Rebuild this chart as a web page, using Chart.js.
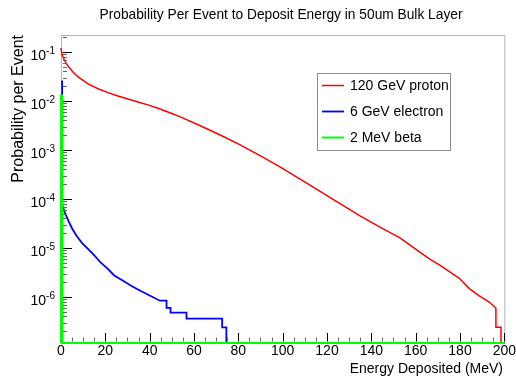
<!DOCTYPE html>
<html>
<head>
<meta charset="utf-8">
<script src="https://cdn.jsdelivr.net/npm/chart.js@4/dist/chart.umd.min.js"></script>
<style>
  html, body { margin: 0; padding: 0; background: #ffffff; }
  #c { display: block; }
</style>
</head>
<body>
<canvas id="c" width="516" height="376"></canvas>
<script>
// ---- Data (energy in MeV, probability per event) ----
const seriesNames = ["120 GeV proton", "6 GeV electron", "2 MeV beta"];

const redEnergy = [0, 0.5, 1.7, 3.2, 5.4, 7.7, 12.2, 16.7, 21.2, 25.7, 30.2,
  34.7, 39.2, 43.7, 49.1, 53.6, 62.6, 71.6, 80.6, 89.6, 98.6,
  107.7, 116.7, 125.7, 134.7, 143.7, 152.7, 157.2, 161.7, 166.2, 170.7,
  175.2, 179.7, 184.2, 188.7, 193.2, 196.2, 196.2, 198.5, 198.5, 200];
const redProb = [0.120, 0.0871, 0.0661, 0.0513, 0.0389, 0.0309, 0.0224, 0.0178, 0.0148, 0.0126, 0.0110,
  0.00955, 0.00832, 0.00708, 0.00575, 0.00479, 0.00316, 0.00204, 0.00129, 7.76e-4, 4.57e-4,
  2.57e-4, 1.45e-4, 8.13e-5, 4.57e-5, 2.69e-5, 1.62e-5, 1.17e-5, 8.3e-6, 6.0e-6, 4.5e-6,
  3.3e-6, 2.4e-6, 1.48e-6, 1.05e-6, 7.9e-7, 5.9e-7, 2.4e-7, 2.4e-7, 0, 0];

const blueEnergy = [0, 0.5, 0.5, 1.8, 3.3, 5, 7, 9.5, 12.5, 15, 17.6, 21, 24, 28, 32, 36, 40, 44.6,
  47.6, 47.6, 49.4, 49.4, 56.6, 56.6, 72.7, 72.7, 74.6, 74.6, 200];
const blueProb = [0.025, 0.025, 7.6e-5, 5.2e-5, 3.6e-5, 2.5e-5, 1.78e-5, 1.26e-5, 9.3e-6, 7.1e-6, 5.2e-6, 3.8e-6, 2.75e-6, 2.14e-6, 1.66e-6, 1.32e-6, 1.07e-6, 8.4e-7,
  8.4e-7, 6.0e-7, 6.0e-7, 4.8e-7, 4.8e-7, 3.6e-7, 3.6e-7, 2.4e-7, 2.4e-7, 0, 0];

const greenEnergy = [0, 0, 0.5, 0.5, 200];
const greenProb = [0, 0.013, 0.013, 0, 0];

const xTickValues = [0, 20, 40, 60, 80, 100, 120, 140, 160, 180, 200];
const yDecades = [-1, -2, -3, -4, -5, -6];

const Y_MIN = 1.15e-7, Y_MAX = 0.222;
const FONT = "'Liberation Sans', Arial, Helvetica, sans-serif";

function toPoints(xs, ys) {
  return xs.map((x, i) => ({ x: x, y: ys[i] > 0 ? ys[i] : Y_MIN }));
}

const framePlugin = {
  id: 'rootFrame',
  beforeDatasetsDraw(chart) {
    const { ctx, chartArea: a } = chart;
    ctx.save();
    ctx.strokeStyle = '#b4b4b4';
    ctx.lineWidth = 1;
    ctx.strokeRect(a.left + 0.5, a.top + 0.5, a.right - a.left, a.bottom - a.top);
    ctx.restore();
  },
  afterDatasetsDraw(chart) {
    const { ctx, chartArea: a, scales } = chart;
    const xs = scales.x, ys = scales.y;
    ctx.save();
    ctx.lineWidth = 1;
    // y axis ticks (inside), majors at decades, minors 2..9
    for (let d = -8; d <= 0; d++) {
      for (let m = 1; m <= 9; m++) {
        const v = m * Math.pow(10, d);
        if (v < Y_MIN || v > Y_MAX) continue;
        const py = Math.round(ys.getPixelForValue(v)) + 0.5;
        ctx.strokeStyle = m === 1 ? '#000000' : '#666666';
        const len = m === 1 ? 11 : 6;
        ctx.beginPath();
        ctx.moveTo(a.left + 2, py);
        ctx.lineTo(a.left + len, py);
        ctx.stroke();
      }
    }
    // x axis ticks (inside), majors every 20, minors every 5
    for (let v = 5; v <= 200; v += 5) {
      const px = Math.round(xs.getPixelForValue(v)) + 0.5;
      const major = v % 20 === 0;
      ctx.strokeStyle = major ? '#000000' : '#666666';
      ctx.beginPath();
      ctx.moveTo(px, a.bottom - 1.5);
      ctx.lineTo(px, a.bottom - (major ? 10 : 5.5));
      ctx.stroke();
    }
    // y tick labels 10^n with superscript exponent
    ctx.fillStyle = '#000000';
    ctx.textBaseline = 'alphabetic';
    ctx.textAlign = 'left';
    yDecades.forEach(d => {
      const py = ys.getPixelForValue(Math.pow(10, d));
      const sup = String(d);
      ctx.font = '10px ' + FONT;
      const sw = ctx.measureText(sup).width;
      ctx.font = '14px ' + FONT;
      const bw = ctx.measureText('10').width;
      const right = 55;
      ctx.fillText('10', right - sw - bw, py + 8);
      ctx.font = '10px ' + FONT;
      ctx.fillText(sup, right - sw, py + 2);
    });
    ctx.restore();
  },
  afterDraw(chart) {
    const { ctx, data } = chart;
    ctx.save();
    // Title
    ctx.fillStyle = '#000000';
    ctx.font = '13.75px ' + FONT;
    ctx.textAlign = 'center';
    ctx.textBaseline = 'middle';
    ctx.fillText('Probability Per Event to Deposit Energy in 50um Bulk Layer', 281, 15.5);
    // Axis titles
    ctx.font = '14px ' + FONT;
    ctx.textAlign = 'right';
    ctx.fillText('Energy Deposited (MeV)', 503, 369);
    ctx.save();
    ctx.font = '16px ' + FONT;
    ctx.translate(19, 35);
    ctx.rotate(-Math.PI / 2);
    ctx.textAlign = 'right';
    ctx.fillText('Probability per Event', 0, 0);
    ctx.restore();
    // Legend box
    ctx.fillStyle = '#ffffff';
    ctx.fillRect(317.5, 73.5, 133, 77);
    ctx.strokeStyle = '#8c8c8c';
    ctx.lineWidth = 1;
    ctx.strokeRect(317.5, 73.5, 133, 77);
    const rows = [85.5, 111.5, 137.5];
    data.datasets.forEach((ds, i) => {
      ctx.strokeStyle = ds.borderColor;
      ctx.lineWidth = ds.borderWidth;
      ctx.beginPath();
      ctx.moveTo(322, rows[i]);
      ctx.lineTo(344, rows[i]);
      ctx.stroke();
      ctx.fillStyle = '#000000';
      ctx.font = '14px ' + FONT;
      ctx.textAlign = 'left';
      ctx.textBaseline = 'middle';
      ctx.fillText(ds.label, 350, rows[i] + 1);
    });
    ctx.restore();
  }
};

new Chart(document.getElementById('c'), {
  type: 'line',
  data: {
    datasets: [
      { label: seriesNames[0], data: toPoints(redEnergy, redProb), borderColor: '#ff0000', borderWidth: 1.5, order: 2 },
      { label: seriesNames[1], data: toPoints(blueEnergy, blueProb), borderColor: '#0000ff', borderWidth: 1.8, order: 1 },
      { label: seriesNames[2], data: toPoints(greenEnergy, greenProb), borderColor: '#00ff00', borderWidth: 2, order: 0 }
    ]
  },
  options: {
    responsive: false,
    animation: false,
    devicePixelRatio: 1,
    layout: { padding: { top: 35, right: 11, left: 0, bottom: 0 } },
    elements: { point: { radius: 0, hoverRadius: 0 }, line: { tension: 0, fill: false } },
    datasets: { line: { clip: false } },
    plugins: { legend: { display: false }, tooltip: { enabled: false }, title: { display: false } },
    scales: {
      x: {
        type: 'linear', min: 0, max: 200, position: 'bottom',
        grid: { display: false, drawTicks: false }, border: { display: false },
        afterBuildTicks: s => { s.ticks = xTickValues.map(v => ({ value: v })); },
        ticks: { font: { size: 14, family: FONT }, color: '#000000', padding: 0, maxRotation: 0, autoSkip: false },
        afterFit: s => { s.height = 33; }
      },
      y: {
        type: 'logarithmic', min: Y_MIN, max: Y_MAX, position: 'left',
        grid: { display: false, drawTicks: false }, border: { display: false },
        ticks: { display: false },
        afterFit: s => { s.width = 61; }
      }
    }
  },
  plugins: [framePlugin]
});
</script>
</body>
</html>
